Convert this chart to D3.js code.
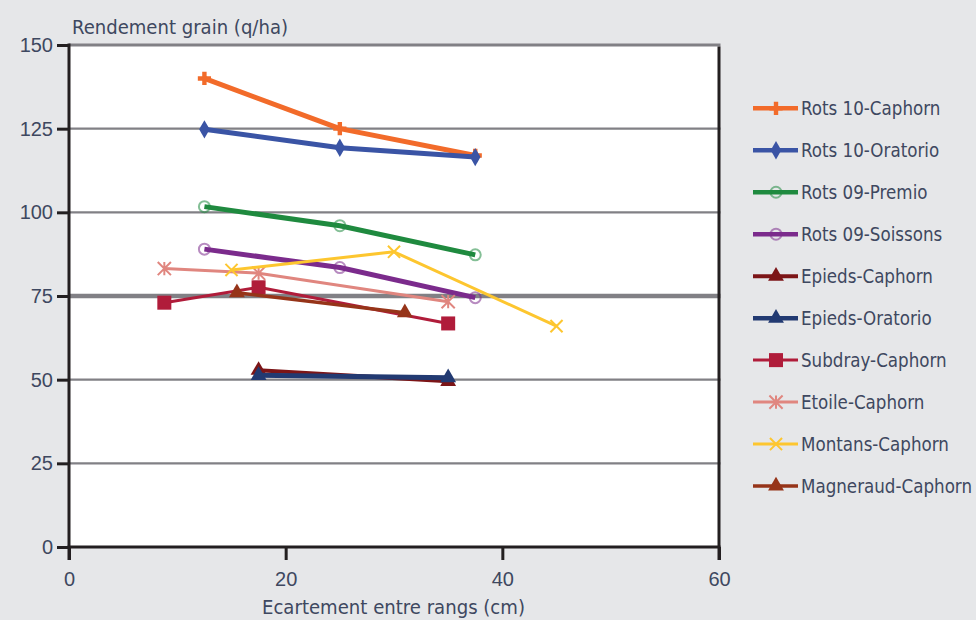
<!DOCTYPE html>
<html><head><meta charset="utf-8">
<script src="https://cdn.jsdelivr.net/npm/d3@7"></script>
<style>
body{margin:0;background:#e6e7e9;}
svg{display:block;font-family:"Liberation Sans Narrow","DejaVu Sans Condensed","Roboto",sans-serif;}
</style></head><body>
<svg id="c" width="976" height="620"></svg>
<script>
const seriesNames = ["Rots 10-Caphorn","Rots 10-Oratorio","Rots 09-Premio","Rots 09-Soissons","Epieds-Caphorn","Epieds-Oratorio","Subdray-Caphorn","Etoile-Caphorn","Montans-Caphorn","Magneraud-Caphorn"];
const seriesX = [
  [12.5,25,37.5],[12.5,25,37.5],[12.5,25,37.5],[12.5,25,37.5],
  [17.5,35],[17.5,35],[8.8,17.5,35],[8.8,17.5,35],[15,30,45],[15.5,31]
];
const seriesY = [
  [140,125,117],[124.8,119.3,116.5],[101.7,96,87.3],[89,83.5,74.5],
  [52.8,49.5],[51.3,50.6],[73,77.6,66.8],[83.2,81.8,73.3],[82.8,88.2,66],[76,70]
];
const seriesColors = ["#f26b2a","#3a54a5","#1f8a3f","#7b2b8c","#7c1517","#223a72","#b01c3a","#e0867f","#fdc62f","#963419"];
const seriesMarkers = ["plus","diamond","circle","circle","triangle","triangle","square","asterisk","cross","triangle"];
const seriesWidths = [5,5,5,5,4,5,3,3,3,3.5];
const xTicks = [0,20,40,60];
const yTicks = [0,25,50,75,100,125,150];

const svg = d3.select("#c");
const x = d3.scaleLinear().domain([0,60]).range([69,719]);
const y = d3.scaleLinear().domain([0,150]).range([547,45]);
const txt = "#3e4860";

svg.append("rect").attr("x",x(0)).attr("y",y(150)).attr("width",x(60)-x(0)).attr("height",y(0)-y(150)).attr("fill","#fff");

// gridlines
yTicks.filter(v=>v>0).forEach(v=>{
  svg.append("line").attr("x1",x(0)).attr("x2",x(60)+1.5).attr("y1",y(v)).attr("y2",y(v))
    .attr("stroke","#818085").attr("stroke-width",v===75?4.5:(v===150?3:2.2));
});
// axes lines
const ax = svg.append("g").attr("stroke","#231f20").attr("stroke-width",3);
ax.append("line").attr("x1",x(0)).attr("x2",x(0)).attr("y1",y(150)-1.5).attr("y2",y(0)+13);
ax.append("line").attr("x1",x(60)).attr("x2",x(60)).attr("y1",y(150)+1.5).attr("y2",y(0)+13);
ax.append("line").attr("x1",x(0)-1.5).attr("x2",x(60)+1.5).attr("y1",y(0)).attr("y2",y(0));

// axes via d3
const yAxis = d3.axisLeft(y).tickValues(yTicks).tickSize(12).tickPadding(4);
const gy = svg.append("g").attr("transform",`translate(${x(0)},0)`).call(yAxis);
gy.select(".domain").remove();
gy.selectAll(".tick line").attr("stroke","#231f20").attr("stroke-width",3);
gy.selectAll(".tick text").attr("fill",txt).attr("font-size",20).attr("font-family","inherit");

const xAxis = d3.axisBottom(x).tickValues(xTicks).tickSize(13).tickPadding(12);
const gx = svg.append("g").attr("transform",`translate(0,${y(0)})`).call(xAxis);
gx.select(".domain").remove();
gx.selectAll(".tick line").attr("stroke","#231f20").attr("stroke-width",3);
gx.selectAll(".tick text").attr("fill",txt).attr("font-size",20).attr("font-family","inherit");

function fit(sel, w){ sel.attr("textLength",w).attr("lengthAdjust","spacingAndGlyphs"); }
const t1 = svg.append("text").attr("x",72).attr("y",34).attr("fill",txt).attr("font-size",20).text("Rendement grain (q/ha)");
fit(t1,216);
const t2 = svg.append("text").attr("x",262).attr("y",614).attr("fill",txt).attr("font-size",20).text("Ecartement entre rangs (cm)");
fit(t2,263);

function marker(g, type, cx, cy, color, s){
  if(type==="circle"){
    g.append("circle").attr("cx",cx).attr("cy",cy).attr("r",s*0.5).attr("fill","none").attr("stroke",color).attr("stroke-width",2).attr("opacity",0.55);
  } else if(type==="square"){
    g.append("rect").attr("x",cx-7).attr("y",cy-7).attr("width",14).attr("height",14).attr("fill",color);
  } else if(type==="triangle"){
    g.append("path").attr("d",d3.symbol(d3.symbolTriangle, s*s*0.9)()).attr("transform",`translate(${cx},${cy})`).attr("fill",color);
  } else if(type==="diamond"){
    g.append("path").attr("d",d3.symbol(d3.symbolDiamond, s*s*0.8)()).attr("transform",`translate(${cx},${cy})`).attr("fill",color);
  } else if(type==="plus"){
    g.append("path").attr("d",d3.symbol(d3.symbolCross, s*s*0.8)()).attr("transform",`translate(${cx},${cy})`).attr("fill",color);
  } else if(type==="asterisk"){
    const r=s*0.6;
    g.append("path").attr("d",`M${cx-r},${cy-r}L${cx+r},${cy+r}M${cx-r},${cy+r}L${cx+r},${cy-r}M${cx},${cy-r}L${cx},${cy+r}`).attr("stroke",color).attr("stroke-width",2);
  } else if(type==="cross"){
    const r=s*0.55;
    g.append("path").attr("d",`M${cx-r},${cy-r}L${cx+r},${cy+r}M${cx-r},${cy+r}L${cx+r},${cy-r}`).attr("stroke",color).attr("stroke-width",2);
  }
}

const line = d3.line().x(d=>x(d[0])).y(d=>y(d[1]));
seriesNames.forEach((name,i)=>{
  const pts = seriesX[i].map((v,j)=>[v,seriesY[i][j]]);
  const g = svg.append("g");
  g.append("path").attr("d",line(pts)).attr("fill","none").attr("stroke",seriesColors[i]).attr("stroke-width",seriesWidths[i]).attr("stroke-linejoin","round");
  pts.forEach(p=>marker(g, seriesMarkers[i], x(p[0]), y(p[1]), seriesColors[i], 11));
});

// legend
const lg = svg.append("g");
const texts = [];
seriesNames.forEach((name,i)=>{
  const ly = 108.3 + i*41.97;
  lg.append("line").attr("x1",753).attr("x2",798).attr("y1",ly).attr("y2",ly).attr("stroke",seriesColors[i]).attr("stroke-width",Math.min(seriesWidths[i],4.5));
  marker(lg, seriesMarkers[i], 776, ly, seriesColors[i], 11);
  texts.push(lg.append("text").attr("x",801).attr("y",ly+6.5).attr("fill",txt).attr("font-size",19).text(name));
});
const k = 171 / texts[9].node().getComputedTextLength();
texts.forEach(t=>fit(t, t.node().getComputedTextLength()*k));
</script></body></html>
